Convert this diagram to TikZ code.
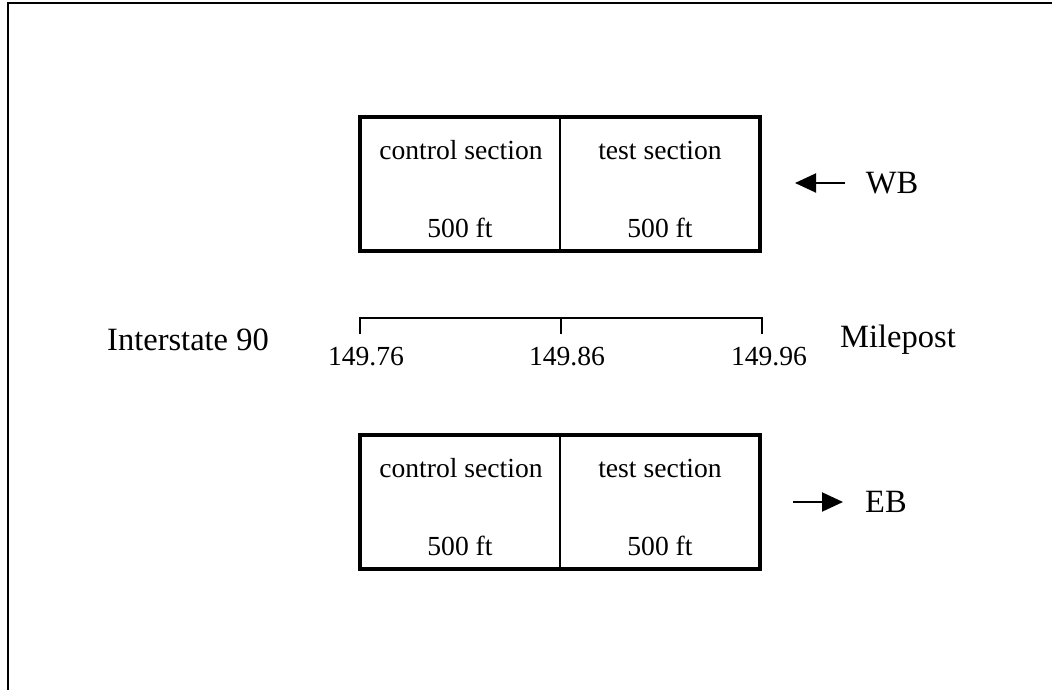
\documentclass[tikz,border=0pt]{standalone}
\usepackage{fontspec}
\setmainfont{Liberation Serif}
\usetikzlibrary{arrows.meta}
\tikzset{
  small/.style={font=\fontsize{27.6}{32}\selectfont, inner sep=0pt},
  big/.style={font=\fontsize{32.5}{38}\selectfont, inner sep=0pt},
  cell/.style={minimum width=200pt, minimum height=134pt, inner sep=0pt},
  frame/.style={line width=2pt},
  boxline/.style={line width=4pt},
  divider/.style={line width=1.8pt},
  ruler/.style={line width=1.8pt},
  dirarrow/.style={line width=2pt, -{Triangle[length=21pt,width=19pt]}}
}
\begin{document}
\begin{tikzpicture}[x=1pt,y=-1pt]
\useasboundingbox (0,0) rectangle (1052,690);
% page frame (left and top edges)
\draw[frame] (8,690) -- (8,3) -- (1052,3);

% westbound lanes
\node[cell] (wc) at (460,184) {};
\node[cell] (wt) at (660,184) {};
\draw[boxline] (wc.north west) rectangle (wt.south east);
\draw[divider] (wc.north east) -- (wc.south east);
\node[small] (wcname) at (461,150) {control section};
\node[small] (wtname) at (660,150) {test section};
\node[small] (wclen) at (460,228) {500 ft};
\node[small] (wtlen) at (660,228) {500 ft};
\node[big] (wb) at (892,183) {WB};
\coordinate (wbstart) at (845,183);
\coordinate (wbend) at (795,183);
\draw[dirarrow] (wbstart) -- (wbend);

% eastbound lanes
\node[cell] (ec) at (460,502) {};
\node[cell] (et) at (660,502) {};
\draw[boxline] (ec.north west) rectangle (et.south east);
\draw[divider] (ec.north east) -- (ec.south east);
\node[small] (ecname) at (461,468) {control section};
\node[small] (etname) at (660,468) {test section};
\node[small] (eclen) at (460,546) {500 ft};
\node[small] (etlen) at (660,546) {500 ft};
\node[big] (eb) at (886,502) {EB};
\coordinate (ebstart) at (793,502);
\coordinate (ebend) at (843,502);
\draw[dirarrow] (ebstart) -- (ebend);

% milepost scale: baseline on top, ticks hanging below
\coordinate (m1) at (360,318);
\coordinate (m2) at (561,318);
\coordinate (m3) at (762,318);
\draw[ruler] ([yshift=-16pt]m1) -- (m1) -- (m3) -- ([yshift=-16pt]m3);
\draw[ruler] (m2) -- ([yshift=-16pt]m2);
\node[small] (p1) at (366,357) {149.76};
\node[small] (p2) at (567,357) {149.86};
\node[small] (p3) at (769,357) {149.96};
\node[big] (road) at (188,340) {Interstate 90};
\node[big] (mp) at (898,340) {Milepost};
\end{tikzpicture}
\end{document}
